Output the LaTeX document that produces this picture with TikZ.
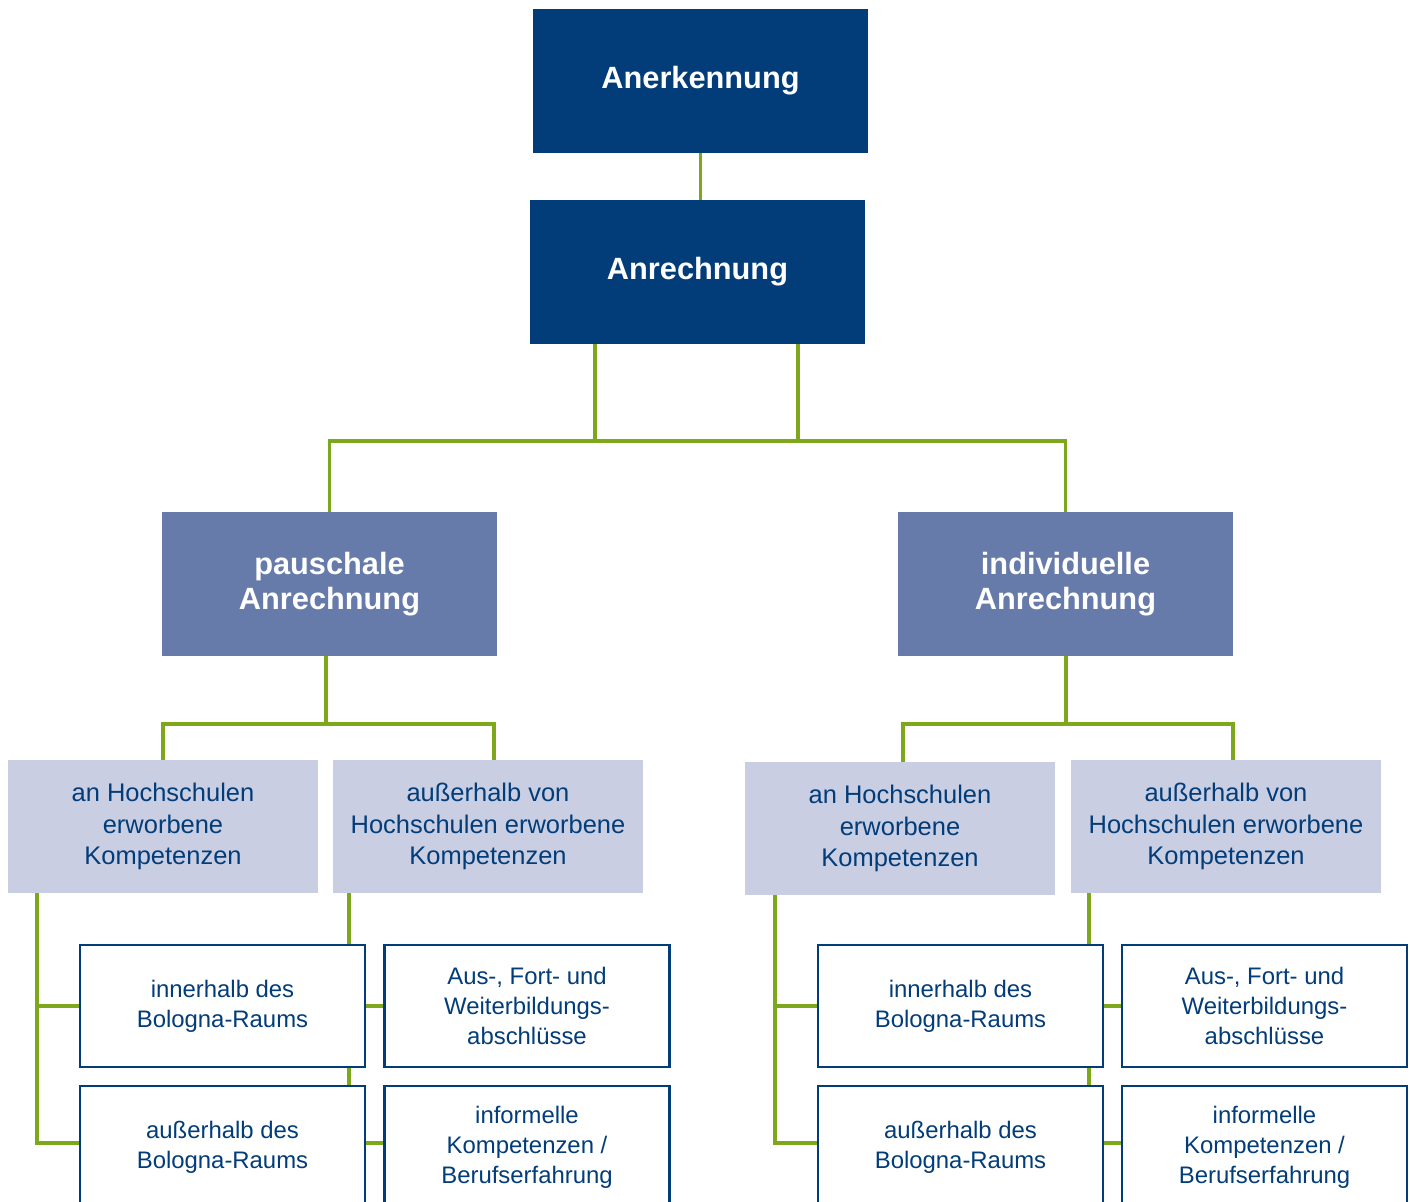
\documentclass[tikz,border=0pt]{standalone}
\usepackage{fontspec}
\setmainfont{Liberation Sans}
\usetikzlibrary{backgrounds}
\definecolor{darkblue}{RGB}{2,61,121}
\definecolor{midblue}{RGB}{102,123,170}
\definecolor{lightblue}{RGB}{201,206,227}
\definecolor{linkgreen}{RGB}{125,168,27}
\begin{document}
\begin{tikzpicture}[x=0.02cm,y=-0.02cm,
  top/.style={fill=darkblue,text=white,font=\fontsize{17.5}{20}\selectfont\bfseries,
    minimum width=6.7cm,minimum height=2.88cm,inner sep=0pt,align=center},
  way/.style={top,fill=midblue},
  kind/.style={fill=lightblue,text=darkblue,font=\fontsize{14.5}{18}\selectfont,
    minimum width=6.2cm,minimum height=2.66cm,inner sep=0pt,align=center},
  leaf/.style={draw=darkblue,line width=1.4pt,fill=white,text=darkblue,
    font=\fontsize{13.6}{17}\selectfont,minimum width=5.7cm,minimum height=2.44cm,
    inner sep=0pt,align=center},
  link/.style={draw=linkgreen,line width=2pt}]
\useasboundingbox (0,0) rectangle (1410,1202);
\clip (0,0) rectangle (1410,1202);
\node[top] (ane) at (700.5,81) {Anerkennung};
\node[top] (anr) at (697.5,272) {Anrechnung};
\node[way] (pau) at (329.5,584) {pauschale\\Anrechnung};
\node[way] (ind) at (1065.5,584) {individuelle\\Anrechnung};
\node[kind] (kL1) at (163,826.5) {an Hochschulen\\erworbene\\Kompetenzen};
\node[kind] (kL2) at (488,826.5) {außerhalb von\\Hochschulen erworbene\\Kompetenzen};
\node[kind] (kR1) at (900,828.5) {an Hochschulen\\erworbene\\Kompetenzen};
\node[kind] (kR2) at (1226,826.5) {außerhalb von\\Hochschulen erworbene\\Kompetenzen};
% left leaves
\node[leaf] (lL1) at (222.5,1006) {innerhalb des\\Bologna-Raums};
\node[leaf] (lL2) at (222.5,1147) {außerhalb des\\Bologna-Raums};
\node[leaf] (lL3) at (527,1006) {Aus-, Fort- und\\Weiterbildungs-\\abschlüsse};
\node[leaf] (lL4) at (527,1147) {informelle\\Kompetenzen /\\Berufserfahrung};
% right leaves
\node[leaf] (lR1) at (960.5,1006) {innerhalb des\\Bologna-Raums};
\node[leaf] (lR2) at (960.5,1147) {außerhalb des\\Bologna-Raums};
\node[leaf] (lR3) at (1264.5,1006) {Aus-, Fort- und\\Weiterbildungs-\\abschlüsse};
\node[leaf] (lR4) at (1264.5,1147) {informelle\\Kompetenzen /\\Berufserfahrung};
\coordinate (busL) at (595,441);
\coordinate (busR) at (798,441);
\coordinate (jL) at (326,724);
\coordinate (jR) at (1066,724);
\coordinate (tL1) at (37,0);
\coordinate (tL2) at (349,0);
\coordinate (tR1) at (775,0);
\coordinate (tR2) at (1089,0);
\begin{scope}[on background layer]
\draw[link] (ane.south) -- (ane.south |- anr.north);
\draw[link] (busL |- anr.south) -- (busL);
\draw[link] (busR |- anr.south) -- (busR);
\draw[link] (pau.north) |- (busL) -- (busR) -| (ind.north);
\draw[link] (jL |- pau.south) -- (jL);
\draw[link] (kL1.north) |- (jL) -| ([xshift=0.12cm]kL2.north);
\draw[link] (jR |- ind.south) -- (jR);
\draw[link] ([xshift=0.06cm]kR1.north) |- (jR) -| ([xshift=0.14cm]kR2.north);
\draw[link] (tL1 |- kL1.south) |- (lL1.west);
\draw[link] (tL1 |- kL1.south) |- ([yshift=0.08cm]lL2.west);
\draw[link] (tL2 |- kL2.south) |- ([yshift=0.08cm]lL4.west);
\draw[link] (tL2 |- lL3.west) -- (lL3.west);
\draw[link] (tR1 |- kR1.south) |- (lR1.west);
\draw[link] (tR1 |- kR1.south) |- ([yshift=0.08cm]lR2.west);
\draw[link] (tR2 |- kR2.south) |- ([yshift=0.08cm]lR4.west);
\draw[link] (tR2 |- lR3.west) -- (lR3.west);
\end{scope}
\end{tikzpicture}
\end{document}
